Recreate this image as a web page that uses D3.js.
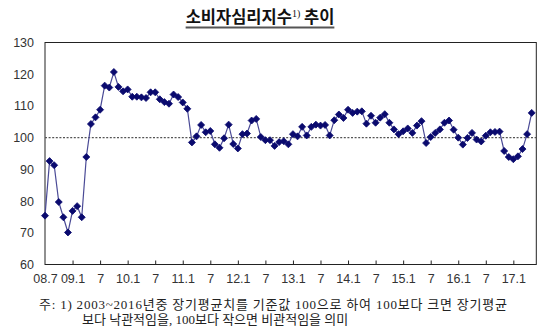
<!DOCTYPE html>
<html>
<head>
<meta charset="utf-8">
<script src="https://cdn.jsdelivr.net/npm/d3@7"></script>
<style>
  html, body { margin: 0; padding: 0; background: #fff; }
  svg { display: block; }
</style>
</head>
<body>
<svg id="chart" width="560" height="330"></svg>
<script>
// Consumer sentiment index (CCSI), monthly, 2008.7 – 2017.5
const startYear = 2008, startMonth = 7;
const sentiment = [
  75.4, 92.6, 91.3, 79.7, 74.9, 70.1, 76.9, 78.4, 74.9, 93.9,
  104.3, 106.4, 108.8, 116.4, 115.8, 120.7, 116.0, 114.6, 115.2, 112.9,
  112.9, 112.7, 112.5, 114.3, 114.3, 112.1, 111.2, 110.7, 113.6, 112.8,
  111.1, 109.1, 98.5, 100.4, 104.0, 101.7, 102.1, 97.9, 96.8, 99.8,
  104.1, 98.0, 96.6, 101.1, 101.3, 105.4, 105.9, 100.2, 99.2, 99.2,
  97.4, 98.6, 98.9, 97.9, 101.1, 100.4, 103.4, 100.7, 103.4, 104.1,
  103.8, 104.0, 100.7, 105.5, 107.3, 106.2, 108.8, 107.8, 108.2, 108.3,
  104.4, 106.9, 104.7, 106.3, 107.4, 104.7, 102.6, 101.1, 102.0, 102.9,
  101.5, 103.8, 105.2, 98.3, 100.2, 101.5, 102.6, 104.7, 105.4, 102.5,
  100.0, 97.8, 99.9, 101.5, 99.4, 98.8, 100.6, 101.7, 101.8, 101.9,
  95.8, 93.9, 93.2, 94.1, 96.4, 101.1, 107.8
];
// month keys "YY.M" for each observation
const months = sentiment.map((_, i) => {
  const m = startMonth - 1 + i;
  const yr = startYear + Math.floor(m / 12);
  return String(yr % 100).padStart(2, "0") + "." + (m % 12 + 1);
});
const tickMonths = ["08.7", "09.1", "09.7", "10.1", "10.7", "11.1", "11.7", "12.1", "12.7",
                    "13.1", "13.7", "14.1", "14.7", "15.1", "15.7", "16.1", "16.7", "17.1"];
const tickLabels = ["08.7", "09.1", "7", "10.1", "7", "11.1", "7", "12.1", "7",
                    "13.1", "7", "14.1", "7", "15.1", "7", "16.1", "7", "17.1"];
const yTicks = [60, 70, 80, 90, 100, 110, 120, 130];
const baseline = 100;
const titleMain = "소비자심리지수", titleSup = "1)", titleTail = " 추이";
const noteLines = [
  "주:  1) 2003~2016년중 장기평균치를 기준값 100으로 하여 100보다 크면 장기평균",
  "보다 낙관적임을, 100보다 작으면 비관적임을 의미"
];

(function draw() {
  const svg = d3.select("#chart");
  const plotL = 45, plotR = 536.3, plotT = 42.5, plotB = 264.5;
  const step = (plotR - plotL) / months.length;

  const x = d3.scalePoint().domain(months).range([plotL, plotR - step]);
  const y = d3.scaleLinear().domain([60, 130]).range([plotB, plotT]);

  const axisFont = "'Liberation Sans', Arial, sans-serif";

  // plot frame
  svg.append("rect")
    .attr("x", plotL).attr("y", plotT)
    .attr("width", plotR - plotL).attr("height", plotB - plotT)
    .attr("fill", "none").attr("stroke", "#222").attr("stroke-width", 1);

  // y axis labels
  const yAxis = d3.axisLeft(y).tickValues(yTicks).tickSize(0).tickPadding(11);
  const gy = svg.append("g").attr("transform", `translate(${plotL},0)`).call(yAxis);
  gy.select(".domain").remove();
  gy.selectAll("text").attr("font-family", axisFont).attr("font-size", 12.5).attr("fill", "#333");

  // x axis: short inward ticks every six months
  const xAxis = d3.axisBottom(x).tickValues(tickMonths).tickSize(0).tickPadding(10)
    .tickFormat(d => tickLabels[tickMonths.indexOf(d)]);
  const gx = svg.append("g").attr("transform", `translate(0,${plotB})`).call(xAxis);
  gx.select(".domain").remove();
  gx.selectAll("text").attr("font-family", axisFont).attr("font-size", 12.5).attr("fill", "#333");
  gx.selectAll(".tick").filter(d => d !== months[0]).append("line")
    .attr("y1", 0).attr("y2", -4).attr("stroke", "#222").attr("stroke-width", 1);

  // long-run average reference line
  svg.append("line")
    .attr("x1", plotL).attr("x2", plotR)
    .attr("y1", y(baseline)).attr("y2", y(baseline))
    .attr("stroke", "#555").attr("stroke-width", 1.3).attr("stroke-dasharray", "2,1.6");

  // series line
  const line = d3.line().x((d, i) => x(months[i])).y(d => y(d));
  svg.append("path").datum(sentiment)
    .attr("d", line).attr("fill", "none")
    .attr("stroke", "#4a4a96").attr("stroke-width", 1.2);

  // diamond markers
  const r = 3.5;
  svg.append("g").selectAll("path").data(sentiment).join("path")
    .attr("transform", (d, i) => `translate(${x(months[i])},${y(d)})`)
    .attr("d", `M0,${-r}L${r},0L0,${r}L${-r},0Z`)
    .attr("fill", "#0a0a6e").attr("stroke", "#0a0a6e").attr("stroke-width", 0.8)
    .attr("stroke-linejoin", "round");

  // title with superscript note mark
  const title = svg.append("text")
    .attr("x", 260).attr("y", 23).attr("text-anchor", "middle")
    .attr("font-family", "'Noto Sans CJK KR', sans-serif")
    .attr("font-size", 16.5).attr("font-weight", 700).attr("fill", "#111");
  title.append("tspan").text(titleMain);
  title.append("tspan").attr("font-size", 10).attr("dy", -6).attr("font-weight", 400)
    .attr("font-family", "'Liberation Serif', serif").text(titleSup);
  title.append("tspan").attr("dy", 6).text(titleTail);
  const tb = title.node().getBBox();
  svg.append("line")
    .attr("x1", tb.x).attr("x2", tb.x + tb.width)
    .attr("y1", 27.5).attr("y2", 27.5)
    .attr("stroke", "#555").attr("stroke-width", 2);

  // footnote
  const noteFont = "'Liberation Serif', 'Noto Sans CJK KR', serif";
  svg.append("text").attr("x", 39).attr("y", 309)
    .attr("font-family", noteFont).attr("font-size", 13).attr("fill", "#222")
    .attr("textLength", 468).attr("lengthAdjust", "spacing")
    .text(noteLines[0]);
  svg.append("text").attr("x", 82).attr("y", 324)
    .attr("font-family", noteFont).attr("font-size", 13).attr("fill", "#222")
    .text(noteLines[1]);
})();
</script>
</body>
</html>
